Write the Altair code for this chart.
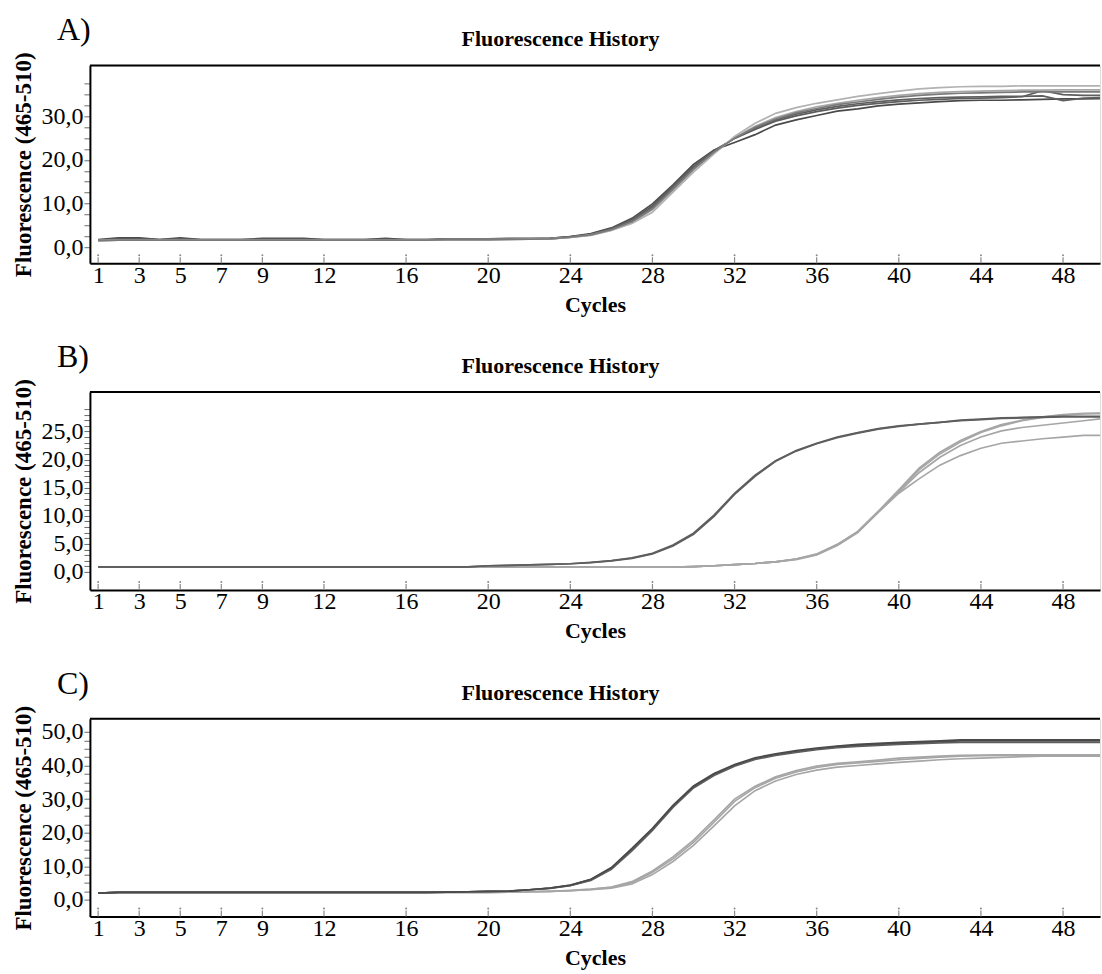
import altair as alt
import pandas as pd

# ---------------------------------------------------------------- data
CYCLES = list(range(1, 51))
X_TICKS = [1, 3, 5, 7, 9, 12, 16, 20, 24, 28, 32, 36, 40, 44, 48]

DARK = "#4a4a4a"
DARK2 = "#5e5e5e"
MID = "#7a7a7a"
LIGHT = "#a6a6a6"
LIGHT2 = "#b2b2b2"

# Panel A: six replicate runs
A_RUNS = {
    "A1": [1.7, 2.1, 2.1, 1.7, 2.1, 1.7, 1.7, 1.7, 2.0, 2.0, 2.0, 1.7, 1.7, 1.7, 2.0, 1.7, 1.7,
           1.9, 1.9, 1.9, 2.0, 2.0, 2.0, 2.4, 3.1, 4.4, 6.6, 9.9, 14.3, 19.0, 22.3, 24.0, 25.8,
           28.0, 29.2, 30.2, 31.2, 31.7, 32.4, 32.8, 33.1, 33.4, 33.6, 33.7, 33.7, 33.8, 33.9,
           34.0, 34.0, 34.1],
    "A2": [1.6, 1.9, 1.9, 1.7, 1.9, 1.7, 1.7, 1.7, 1.8, 1.8, 1.8, 1.7, 1.7, 1.7, 1.8, 1.7, 1.7,
           1.8, 1.8, 1.8, 1.9, 1.9, 2.0, 2.4, 2.9, 4.2, 6.3, 9.5, 14.0, 18.6, 22.2, 24.9, 27.0,
           28.9, 30.1, 31.1, 31.9, 32.5, 33.0, 33.4, 33.7, 33.9, 34.1, 34.2, 34.3, 34.5, 35.9,
           35.0, 34.8, 34.8],
    "A3": [1.6, 1.7, 1.7, 1.6, 1.7, 1.6, 1.6, 1.6, 1.7, 1.7, 1.7, 1.6, 1.6, 1.6, 1.7, 1.6, 1.6,
           1.7, 1.7, 1.7, 1.8, 1.8, 1.9, 2.3, 2.9, 4.1, 6.0, 9.2, 13.6, 18.2, 22.0, 25.0, 27.3,
           29.2, 30.5, 31.5, 32.3, 32.9, 33.4, 33.8, 34.1, 34.3, 34.4, 34.5, 34.6, 34.6, 34.7,
           33.6, 34.2, 34.3],
    "A4": [1.5, 1.6, 1.6, 1.6, 1.6, 1.6, 1.6, 1.6, 1.6, 1.6, 1.6, 1.6, 1.6, 1.6, 1.6, 1.6, 1.6,
           1.7, 1.7, 1.7, 1.7, 1.8, 1.9, 2.2, 2.8, 3.9, 5.6, 8.6, 13.0, 17.7, 21.7, 25.1, 27.7,
           29.7, 31.1, 32.2, 33.0, 33.7, 34.3, 34.8, 35.2, 35.5, 35.7, 35.8, 35.9, 36.0, 36.0,
           36.1, 36.1, 36.1],
    "A5": [1.5, 1.6, 1.6, 1.6, 1.6, 1.6, 1.6, 1.6, 1.6, 1.6, 1.6, 1.6, 1.6, 1.6, 1.6, 1.6, 1.6,
           1.7, 1.7, 1.7, 1.7, 1.8, 1.9, 2.2, 2.7, 3.8, 5.4, 8.0, 12.6, 17.2, 21.4, 25.4, 28.4,
           30.7, 32.0, 33.0, 33.8, 34.6, 35.2, 35.8, 36.3, 36.6, 36.8, 36.9, 36.9, 37.0, 37.0,
           37.0, 37.0, 37.0],
    "A6": [1.5, 1.6, 1.6, 1.6, 1.6, 1.6, 1.6, 1.6, 1.6, 1.6, 1.6, 1.6, 1.6, 1.6, 1.6, 1.6, 1.6,
           1.7, 1.7, 1.7, 1.8, 1.8, 1.9, 2.3, 2.8, 4.0, 5.8, 8.8, 13.3, 17.9, 21.8, 25.0, 27.5,
           29.4, 30.8, 31.8, 32.7, 33.3, 33.9, 34.4, 34.8, 35.1, 35.3, 35.4, 35.5, 35.6, 35.6,
           35.6, 35.6, 35.6],
}
A_COLORS = {"A5": LIGHT2, "A4": LIGHT, "A6": MID, "A3": DARK2, "A2": DARK2, "A1": DARK}

# Panel B: early (dark) and late (light) amplifying runs
B_RUNS = {
    "B5": [0.85] * 29 + [0.95, 1.1, 1.3, 1.5, 1.8, 2.3, 3.2, 4.9, 7.2, 10.8, 14.6, 18.5, 21.3,
           23.4, 25.0, 26.2, 27.0, 27.6, 28.0, 28.2, 28.3],
    "B6": [0.85] * 29 + [0.95, 1.1, 1.3, 1.5, 1.8, 2.3, 3.1, 4.8, 7.1, 10.7, 14.4, 18.2, 21.0,
           23.1, 24.8, 26.0, 26.9, 27.5, 27.9, 28.1, 28.2],
    "B4": [0.85] * 29 + [0.95, 1.1, 1.3, 1.5, 1.8, 2.3, 3.1, 4.8, 7.1, 10.7, 14.2, 17.7, 20.4,
           22.5, 24.0, 25.1, 25.7, 26.1, 26.5, 26.9, 27.3],
    "B3": [0.85] * 29 + [0.95, 1.1, 1.3, 1.5, 1.8, 2.2, 3.0, 4.7, 7.0, 10.6, 14.0, 16.6, 19.0,
           20.7, 22.0, 22.9, 23.3, 23.7, 24.0, 24.3, 24.3],
    "B1": [0.9] * 19 + [1.1, 1.15, 1.25, 1.35, 1.45, 1.7, 2.0, 2.5, 3.3, 4.8, 6.9, 10.1, 14.0,
           17.2, 19.8, 21.6, 22.9, 24.0, 24.8, 25.5, 26.0, 26.3, 26.6, 27.0, 27.2, 27.4, 27.5,
           27.6, 27.7, 27.7, 27.7],
    "B2": [0.9] * 19 + [1.1, 1.15, 1.25, 1.35, 1.45, 1.65, 1.95, 2.4, 3.2, 4.6, 6.7, 9.9, 13.8,
           17.0, 19.7, 21.5, 22.8, 23.9, 24.7, 25.4, 25.9, 26.3, 26.6, 26.9, 27.1, 27.3, 27.4,
           27.5, 27.6, 27.6, 27.6],
}
B_COLORS = {"B5": LIGHT, "B6": LIGHT, "B4": LIGHT, "B3": LIGHT, "B1": DARK2, "B2": DARK2}

# Panel C: three dark and three light replicates
C_RUNS = {
    "C4": [2.0] + [2.2] * 19 + [2.3, 2.4, 2.5, 2.8, 3.2, 3.8, 5.4, 8.6, 12.8, 17.8, 23.8, 30.0,
           33.8, 36.6, 38.5, 39.8, 40.6, 41.1, 41.6, 42.2, 42.5, 42.8, 43.0, 43.1, 43.2, 43.2,
           43.2, 43.2, 43.2, 43.2],
    "C5": [2.0] + [2.2] * 19 + [2.3, 2.4, 2.5, 2.7, 3.1, 3.7, 5.1, 8.2, 12.2, 17.1, 23.1, 29.3,
           33.4, 36.2, 38.1, 39.4, 40.3, 40.8, 41.2, 41.7, 42.1, 42.5, 42.8, 42.9, 43.0, 43.1,
           43.1, 43.1, 43.1, 43.1],
    "C6": [2.0] + [2.2] * 19 + [2.3, 2.4, 2.5, 2.7, 3.0, 3.5, 4.7, 7.5, 11.4, 16.2, 22.0, 28.0,
           32.5, 35.4, 37.3, 38.6, 39.5, 40.0, 40.5, 40.9, 41.3, 41.7, 42.0, 42.2, 42.4, 42.6,
           42.8, 42.8, 42.8, 42.8],
    "C1": [2.0] + [2.2] * 16 + [2.3, 2.4, 2.5, 2.6, 3.0, 3.5, 4.3, 6.0, 9.4, 15.0, 21.0, 27.8,
           33.6, 37.3, 40.0, 42.0, 43.2, 44.1, 44.9, 45.6, 46.0, 46.3, 46.6, 46.8, 47.0, 47.3,
           47.3, 47.3, 47.3, 47.3, 47.3, 47.3, 47.3],
    "C2": [2.0] + [2.2] * 16 + [2.3, 2.4, 2.5, 2.6, 3.0, 3.4, 4.2, 5.8, 9.1, 14.6, 20.7, 27.5,
           33.3, 37.0, 39.8, 41.8, 43.0, 43.9, 44.7, 45.3, 45.7, 46.0, 46.3, 46.5, 46.7, 46.9,
           46.9, 46.9, 46.9, 46.9, 46.9, 46.9, 46.9],
    "C3": [2.0] + [2.2] * 16 + [2.3, 2.4, 2.5, 2.6, 3.0, 3.5, 4.4, 6.1, 9.6, 15.3, 21.3, 28.1,
           33.9, 37.6, 40.3, 42.3, 43.5, 44.4, 45.2, 45.8, 46.3, 46.6, 46.9, 47.1, 47.3, 47.6,
           47.6, 47.6, 47.6, 47.6, 47.6, 47.6, 47.6],
}
C_COLORS = {"C4": LIGHT, "C5": LIGHT, "C6": LIGHT, "C1": DARK, "C2": DARK2, "C3": DARK}

A_YTICKS = [0, 2.5, 5, 7.5, 10, 12.5, 15, 17.5, 20, 22.5, 25, 27.5, 30, 32.5, 35, 37.5]
B_YTICKS = list(range(0, 30))
C_YTICKS = [0, 2.5, 5, 7.5, 10, 12.5, 15, 17.5, 20, 22.5, 25, 27.5, 30, 32.5, 35, 37.5,
            40, 42.5, 45, 47.5, 50]

# ---------------------------------------------------------------- layout
W = 1011
H = 198
SERIF = "Liberation Serif"
TITLE = "Fluorescence History"


def panel(runs, colors, ydomain, yticks, label_step, letter, anchor_box=False):
    x_enc = alt.X(
        "cycle:Q",
        scale=alt.Scale(domain=[0.6, 49.8], nice=False, zero=False),
        axis=alt.Axis(
            values=X_TICKS, title="Cycles", ticks=False, tickSize=0, grid=False,
            labelFont=SERIF, labelFontSize=24, labelColor="black", labelPadding=0,
            labelFlush=False, labelOverlap=False,
            titleFont=SERIF, titleFontSize=22, titleFontWeight="bold", titleColor="black",
            titlePadding=7, domainColor="black", domainWidth=2,
        ),
    )
    y_enc = alt.Y(
        "value:Q",
        scale=alt.Scale(domain=ydomain, nice=False, zero=False),
        axis=alt.Axis(
            values=yticks,
            labelExpr=f"datum.value % {label_step} == 0 ? replace(format(datum.value, '.1f'), '.', ',') : ''",
            title="Fluorescence (465-510)", grid=False,
            tickSize=6, tickColor="#6a6a6a", tickWidth=1,
            labelFont=SERIF, labelFontSize=24, labelColor="black", labelPadding=1,
            labelOverlap=False, labelFlush=False,
            titleFont=SERIF, titleFontSize=23, titleFontWeight="bold", titleColor="black",
            titlePadding=5, domainColor="black", domainWidth=2,
        ),
    )

    layers = []
    if anchor_box:
        box = pd.DataFrame({"k": [0]})
        layers.append(
            alt.Chart(box).mark_rect(fillOpacity=0, strokeOpacity=0).encode(
                x=alt.value(-89), x2=alt.value(W), y=alt.value(-64), y2=alt.value(0)
            )
        )

    for run, values in runs.items():
        df = pd.DataFrame({"cycle": CYCLES, "value": values})
        layers.append(
            alt.Chart(df).mark_line(clip=True, strokeWidth=1.7, color=colors[run]).encode(
                x=x_enc, y=y_enc
            )
        )

    # inward tick marks on the cycle axis, each capped with a small dot
    ticks = pd.DataFrame({"cycle": X_TICKS})
    layers.append(
        alt.Chart(ticks).mark_rule(color="#8a8a8a", strokeWidth=1.2).encode(
            x=alt.X("cycle:Q"), y=alt.value(H), y2=alt.value(H - 6)
        )
    )
    layers.append(
        alt.Chart(ticks).mark_circle(color="#8a8a8a", size=4, opacity=1).encode(
            x=alt.X("cycle:Q"), y=alt.value(H - 8)
        )
    )

    one = pd.DataFrame({"k": [0]})
    layers.append(
        alt.Chart(one).mark_rule(color="black", strokeWidth=2).encode(
            x=alt.value(0), x2=alt.value(W), y=alt.value(0)
        )
    )
    layers.append(
        alt.Chart(one).mark_text(
            text=TITLE, font=SERIF, fontSize=22, fontWeight="bold", color="black",
            align="center", baseline="alphabetic",
        ).encode(x=alt.value(471), y=alt.value(-19))
    )
    layers.append(
        alt.Chart(one).mark_text(
            text=letter, font=SERIF, fontSize=32, color="black",
            align="left", baseline="alphabetic",
        ).encode(x=alt.value(-33), y=alt.value(-25))
    )
    return alt.layer(*layers).properties(width=W, height=H)


chart_a = panel(A_RUNS, A_COLORS, [-3.7, 41.7], A_YTICKS, 10, "A)", anchor_box=True)
chart_b = panel(B_RUNS, B_COLORS, [-3.2, 32.0], B_YTICKS, 5, "B)")
chart_c = panel(C_RUNS, C_COLORS, [-5.0, 53.9], C_YTICKS, 10, "C)")

chart = (
    alt.vconcat(chart_a, chart_b, chart_c, spacing=129, bounds="flush")
    .properties(padding={"left": 0, "top": 0, "right": 0, "bottom": 0})
    .configure_view(stroke=None)
    .configure(font=SERIF)
)

chart.save("out.html", embed_options={"renderer": "svg", "actions": False})
